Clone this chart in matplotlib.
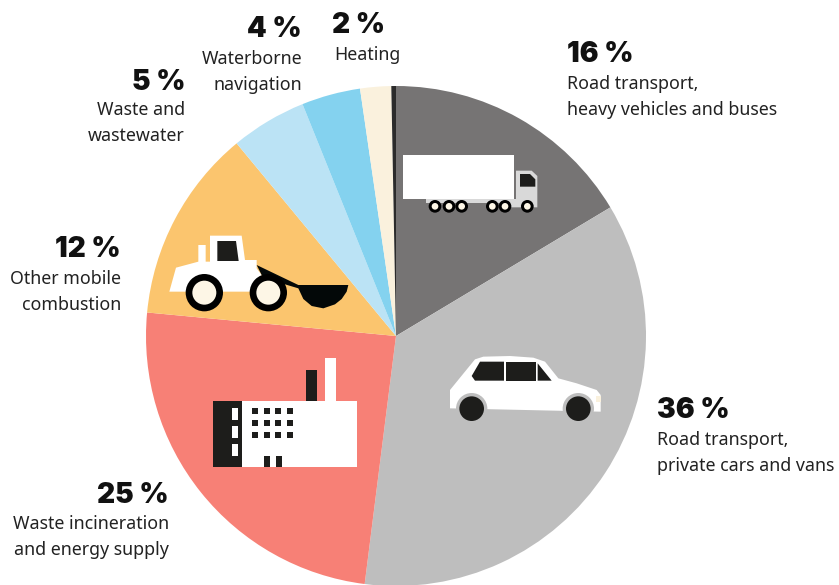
import matplotlib
matplotlib.use("Agg")
import matplotlib.pyplot as plt
from matplotlib.patches import Polygon, Rectangle, Circle

W, H = 839, 585
labels_pct = ["16 %", "36 %", "25 %", "12 %", "5 %", "4 %", "2 %"]
labels_txt = ["Road transport,\nheavy vehicles and buses",
              "Road transport,\nprivate cars and vans",
              "Waste incineration\nand energy supply",
              "Other mobile\ncombustion",
              "Waste and\nwastewater",
              "Waterborne\nnavigation",
              "Heating"]
shares = [16.4, 35.6, 24.5, 12.5, 4.9, 3.8, 2.0, 0.3]
colors = ["#767474", "#bebebe", "#f78076", "#fbc56e", "#bbe3f5", "#84d2ef", "#faf1dd", "#2b2b2b"]

FAM = "Inter"
FAM2 = "Noto Sans"
fig = plt.figure(figsize=(W/100, H/100), dpi=100)
ax = fig.add_axes([0, 0, 1, 1])
ax.pie(shares, colors=colors, startangle=90, counterclock=False,
       center=(396, H-336), radius=250, frame=True, wedgeprops=dict(linewidth=0))
ax.set_xlim(0, W); ax.set_ylim(0, H); ax.axis("off")

def P(x, y): return (x, H-y)
def poly(pts, c, ox, oy, z=3):
    ax.add_patch(Polygon([P(ox+a/3, oy+b/3) for a, b in pts], closed=True, fc=c, ec="none", zorder=z))
def rect(x0, y0, x1, y1, c, ox, oy, z=3):
    ax.add_patch(Rectangle(P(ox+x0/3, oy+y1/3), (x1-x0)/3, (y1-y0)/3, fc=c, ec="none", zorder=z))
def circ(x, y, r, c, ox, oy, z=3):
    ax.add_patch(Circle(P(ox+x/3, oy+y/3), r/3, fc=c, ec="none", zorder=z))

BK, CR = "#1d1d1b", "#fdf6e6"
# truck
ox, oy = 390, 130
rect(40, 76, 372, 208, "white", ox, oy)
rect(108, 208, 378, 220, "#d9d9d9", ox, oy)
poly([(378,122),(425,122),(442,138),(442,232),(360,232),(360,208),(378,208)], "#d9d9d9", ox, oy)
poly([(390,132),(420,132),(436,148),(436,170),(390,170)], BK, ox, oy)
for x in [135,177,215,307,345,412]:
    circ(x, 229, 19, "black", ox, oy, 4)
    circ(x, 229, 10, CR, ox, oy, 5)
# car
ox, oy = 430, 340
poly([(60,150),(135,58),(160,50),(240,48),(310,53),(345,65),(385,115),(440,130),(500,150),(512,165),(512,215),(60,205)], "white", ox, oy)
rect(498,168,512,186,"#faf1dd",ox,oy,3.5)
for x in [125,445]:
    circ(x, 206, 47, "#bebebe", ox, oy, 3.5)
rect(0,216,570,262,"#bebebe",ox,oy,3.6)
for x in [125,445]:
    circ(x, 206, 37, BK, ox, oy, 4)
poly([(150,65),(222,65),(222,122),(135,122),(125,108)], BK, ox, oy)
poly([(229,65),(317,65),(317,122),(229,122)], BK, ox, oy)
poly([(323,70),(365,122),(323,122)], BK, ox, oy)
# factory
ox, oy = 200, 345
rect(125,168,472,367,"white",ox,oy)
rect(40,168,125,367,BK,ox,oy)
rect(319,76,350,168,BK,ox,oy)
rect(375,38,407,168,"white",ox,oy)
for y in [190,243,297]:
    rect(96,y,113,y+35,"white",ox,oy,4)
for x in [157,191,226,261]:
    for y in [190,226,262]:
        rect(x,y,x+18,y+18,BK,ox,oy,4)
for x in [191,227]:
    rect(x,332,x+18,367,BK,ox,oy,4)
# loader
ox, oy = 160, 225
poly([(28,200),(48,128),(115,110),(115,60),(137,60),(137,110),(150,110),(150,32),(245,32),(255,105),(290,105),(290,130),(305,150),(270,200)], "white", ox, oy)
poly([(172,48),(228,48),(236,108),(172,108)], BK, ox, oy, 4)
poly([(290,120),(415,180),(565,180),(560,200),(545,222),(525,238),(490,250),(455,243),(430,222),(415,190),(375,178),(305,150)], "#030808", ox, oy, 3)
for x in [133,325]:
    circ(x, 203, 56, "black", ox, oy, 4)
    circ(x, 203, 36, CR, ox, oy, 5)

# labels: (x, pct baseline, first text baseline, alignment)
pos = [(567,62,89,"left"),(657,418,445,"left"),(169,503,529,"right"),(121,257,284,"right"),
       (185,90,115,"right"),(302,37,64,"right"),(334,33,60,"left")]
for (x,y1,y2,ha),p,t in zip(pos,labels_pct,labels_txt):
    px = 385 if p=="2 %" else x
    ax.text(px, H-y1, p, ha="right" if p=="2 %" else ha, va="baseline", fontsize=20.2, fontweight="black", family=FAM, color="#111111", zorder=6)
    for i,line in enumerate(t.split("\n")):
        ax.text(x, H-y2-i*26, line, ha=ha, va="baseline", fontsize=12.8, family=FAM2, color="#222222", zorder=6)
fig.savefig("out.png", dpi=100)
